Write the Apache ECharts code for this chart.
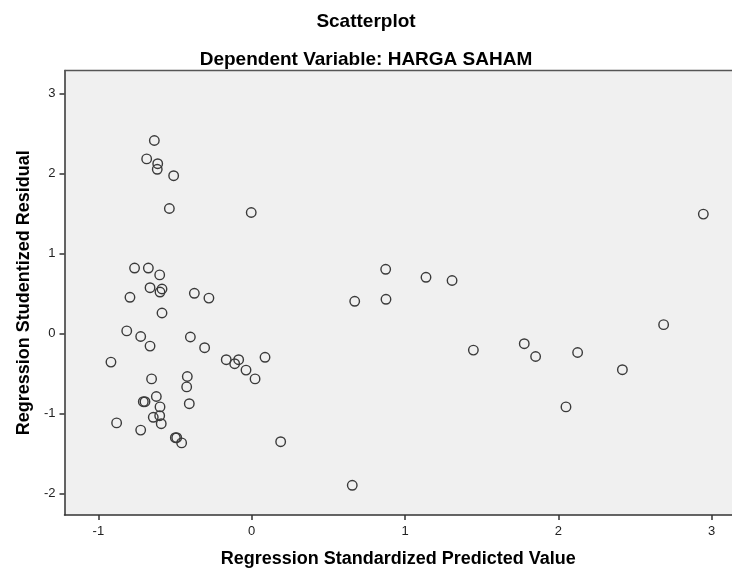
<!DOCTYPE html>
<html>
<head>
<meta charset="utf-8">
<script src="https://cdn.jsdelivr.net/npm/echarts@6/dist/echarts.min.js"></script>
<style>
html,body{margin:0;padding:0;background:#fff;}
#chart{width:732px;height:569px;}
</style>
</head>
<body>
<div id="chart"></div>
<script>
// Regression Standardized Predicted Value (x) and Studentized Residual (y)
var predicted = [
  -0.635, -0.685, -0.613, -0.616, -0.509, -0.537, -0.003, 2.946,
  -0.764, -0.674, -0.600, -0.663, -0.585, -0.598, -0.374, -0.794, -0.279,
  0.874, 1.137, 1.307, 0.672, 0.876,
  -0.585, -0.815, -0.724, -0.663, -0.400, -0.307,
  -0.918, -0.166, -0.111, -0.085, 0.087, -0.037, 0.022,
  -0.653, -0.420, -0.424, -0.622, -0.707, -0.696, -0.598, -0.407,
  -0.642, -0.600, -0.590, -0.881, -0.724, -0.498, -0.489, -0.457,
  0.189, 0.656, 1.446,
  2.687, 1.778, 1.852, 2.126, 2.418, 2.050
];
var residual = [
  2.41, 2.18, 2.12, 2.05, 1.97, 1.56, 1.51, 1.49,
  0.816, 0.816, 0.73, 0.57, 0.554, 0.516, 0.50, 0.45, 0.44,
  0.80, 0.70, 0.66, 0.40, 0.425,
  0.254, 0.03, -0.04, -0.16, -0.046, -0.18,
  -0.36, -0.33, -0.38, -0.33, -0.30, -0.46, -0.57,
  -0.57, -0.54, -0.67, -0.79, -0.855, -0.855, -0.92, -0.88,
  -1.05, -1.03, -1.13, -1.12, -1.21, -1.305, -1.305, -1.37,
  -1.355, -1.90, -0.21,
  0.108, -0.13, -0.29, -0.24, -0.455, -0.92
];
var xTicks = [-1, 0, 1, 2, 3];
var yTicks = [-2, -1, 0, 1, 2, 3];

var points = predicted.map(function (v, i) { return [v, residual[i]]; });

var chart = echarts.init(document.getElementById('chart'), null, {renderer: 'canvas'});
var fontFam = '"Liberation Sans", Arial, sans-serif';
chart.setOption({
  animation: false,
  backgroundColor: '#ffffff',
  title: [
    {text: 'Scatterplot', left: 'center', top: 7,
     textStyle: {fontFamily: fontFam, fontSize: 19, fontWeight: 'bold', color: '#000'}},
    {text: 'Dependent Variable: HARGA SAHAM', left: 'center', top: 45,
     textStyle: {fontFamily: fontFam, fontSize: 19, fontWeight: 'bold', color: '#000'}}
  ],
  grid: {
    left: 64.5, top: 70.5, right: 0, bottom: 54,
    containLabel: false, outerBoundsMode: 'none',
    show: true, backgroundColor: '#f0f0f0', borderWidth: 0
  },
  xAxis: {
    type: 'value', min: -1.221, max: 3.133,
    name: 'Regression Standardized Predicted Value',
    nameLocation: 'middle', nameGap: 35,
    nameTextStyle: {fontFamily: fontFam, fontSize: 18, fontWeight: 'bold', color: '#000'},
    axisLine: {show: true, onZero: false, lineStyle: {color: '#333', width: 1.5}},
    axisTick: {show: true, inside: false, length: 5, customValues: xTicks, lineStyle: {color: '#333', width: 1.5}},
    axisLabel: {customValues: xTicks, margin: 10, fontFamily: fontFam, fontSize: 13, color: '#222',
      formatter: function (v) { return String(v); }},
    splitLine: {show: false}
  },
  yAxis: {
    type: 'value', min: -2.271, max: 3.285,
    name: 'Regression Studentized Residual',
    nameLocation: 'middle', nameGap: 31, nameRotate: 90,
    nameTextStyle: {fontFamily: fontFam, fontSize: 18, fontWeight: 'bold', color: '#000'},
    axisLine: {show: true, onZero: false, lineStyle: {color: '#333', width: 1.5}},
    axisTick: {show: true, inside: false, length: 5, customValues: yTicks, lineStyle: {color: '#333', width: 1.5}},
    axisLabel: {customValues: yTicks, margin: 9, fontFamily: fontFam, fontSize: 13, color: '#222',
      formatter: function (v) { return String(v); }},
    splitLine: {show: false}
  },
  graphic: [{
    type: 'line', silent: true, z: 10,
    shape: {x1: 64.5, y1: 70.5, x2: 732, y2: 70.5},
    style: {stroke: '#555', lineWidth: 1.5}
  }],
  series: [{
    type: 'scatter',
    data: points,
    symbol: 'circle',
    symbolSize: 9.5,
    itemStyle: {color: 'rgba(0,0,0,0)', borderColor: '#3a3a3a', borderWidth: 1.4, opacity: 1}
  }]
});
</script>
</body>
</html>
